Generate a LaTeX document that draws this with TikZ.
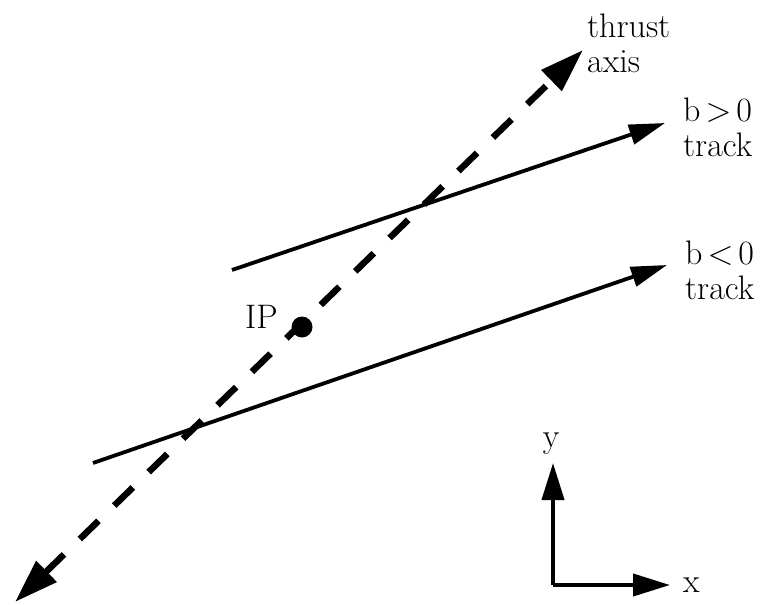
\documentclass[tikz,border=0pt]{standalone}
\usepackage{fontspec}
\usetikzlibrary{arrows.meta}
\begin{document}
\begin{tikzpicture}[x=1pt,y=-1pt,
  font=\fontsize{34}{35}\selectfont,
  lbl/.style={inner sep=0pt},
  mlbl/.style={inner sep=0pt, align=left, anchor=north west},
  trackline/.style={line width=3.8pt, -{Triangle[length=36pt,width=20pt]}},
  thrustline/.style={line width=6.5pt, dash pattern=on 26pt off 22pt,
    {Triangle[length=44pt,width=28pt]}-{Triangle[length=44pt,width=28pt]}},
  axisline/.style={line width=4pt, -{Triangle[length=37pt,width=22pt]}}]
\useasboundingbox (0,0) rectangle (767,604);
% thrust axis
\coordinate (tA) at (15,602);
\coordinate (tB) at (583,50);
\draw[thrustline] (tA) -- (tB);
% tracks
\coordinate (p1) at (232,270);
\coordinate (p1e) at (665,123);
\coordinate (n1) at (93,463);
\coordinate (n1e) at (667,265);
\draw[trackline] (p1) -- (p1e);
\draw[trackline] (n1) -- (n1e);
% IP
\node[circle, fill, inner sep=0pt, minimum size=21pt] (ip) at (302,327) {};
\node[lbl, anchor=base west] (iplab) at (245,328) {IP};
% labels
\node[mlbl] (thrustlab) at (587,14) {thrust\\axis};
\node[mlbl] (bposlab) at (683,98) {b\hspace{5pt}>\hspace{5pt}0\\track};
\node[mlbl] (bneglab) at (685,241) {b\hspace{5pt}<\hspace{5pt}0\\track};
% axes
\coordinate (o) at (553,585);
\coordinate (ye) at (553,463);
\coordinate (xe) at (670,585);
\draw[axisline] (o) -- (ye);
\draw[axisline] (o) -- (xe);
\node[lbl, anchor=base] (ylab) at (551,447) {y};
\node[lbl, anchor=base west] (xlab) at (683,592) {x};
\end{tikzpicture}
\end{document}
